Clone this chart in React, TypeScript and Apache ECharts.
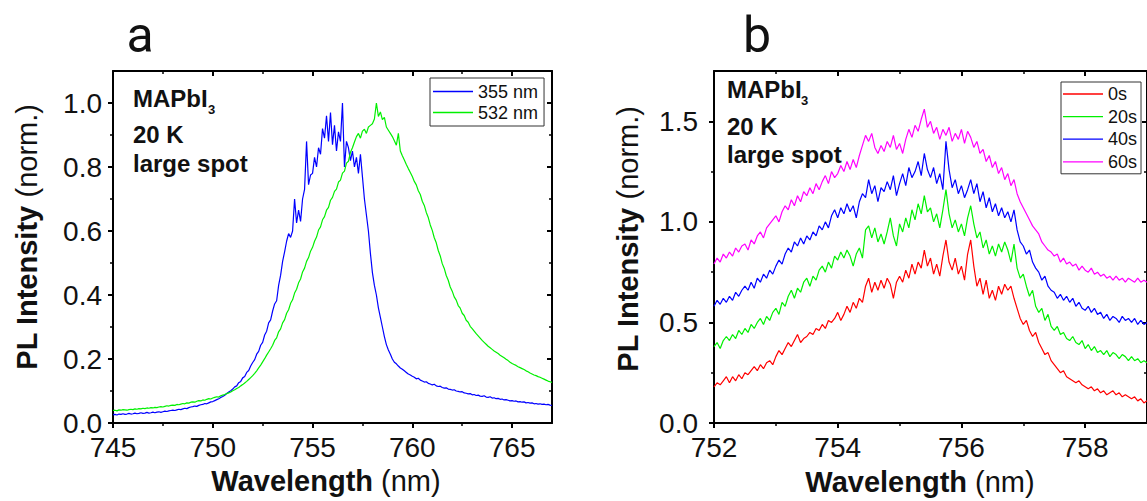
import React, { useEffect, useRef } from "react";
import * as echarts from "echarts";

// ---------- Panel a: PL spectra, 0.1 nm sampling from 745 nm ----------
const A_START = 745;
const A_STEP = 0.1;
const A_355 = [
  0.026, 0.027, 0.025, 0.028, 0.027, 0.029, 0.027, 0.028, 0.030, 0.028,
  0.029, 0.031, 0.029, 0.030, 0.032, 0.030, 0.031, 0.033, 0.031, 0.032,
  0.034, 0.032, 0.034, 0.035, 0.033, 0.035, 0.037, 0.036, 0.038, 0.039,
  0.040, 0.039, 0.041, 0.043, 0.042, 0.044, 0.046, 0.045, 0.048, 0.050,
  0.051, 0.053, 0.052, 0.055, 0.057, 0.058, 0.061, 0.060, 0.063, 0.066,
  0.067, 0.070, 0.073, 0.076, 0.080, 0.083, 0.087, 0.092, 0.097, 0.101,
  0.106, 0.113, 0.116, 0.126, 0.130, 0.141, 0.145, 0.158, 0.164, 0.178,
  0.189, 0.198, 0.215, 0.224, 0.243, 0.252, 0.275, 0.287, 0.313, 0.322,
  0.350, 0.372, 0.382, 0.430, 0.462, 0.505, 0.535, 0.568, 0.592, 0.580,
  0.600, 0.700, 0.625, 0.665, 0.630, 0.700, 0.730, 0.880, 0.745, 0.775,
  0.780, 0.830, 0.800, 0.860, 0.840, 0.920, 0.890, 0.960, 0.880, 0.970,
  0.870, 0.930, 0.850, 0.910, 0.880, 1.000, 0.800, 0.880, 0.860, 0.820,
  0.850, 0.800, 0.830, 0.780, 0.840, 0.770, 0.700, 0.650, 0.600, 0.530,
  0.470, 0.430, 0.400, 0.360, 0.330, 0.300, 0.270, 0.245, 0.228, 0.215,
  0.200, 0.190, 0.185, 0.178, 0.172, 0.168, 0.163, 0.158, 0.153, 0.150,
  0.146, 0.143, 0.138, 0.140, 0.134, 0.131, 0.128, 0.129, 0.124, 0.122,
  0.119, 0.121, 0.116, 0.114, 0.115, 0.111, 0.109, 0.110, 0.106, 0.105,
  0.103, 0.104, 0.100, 0.099, 0.097, 0.098, 0.094, 0.093, 0.091, 0.092,
  0.088, 0.089, 0.086, 0.087, 0.084, 0.083, 0.085, 0.081, 0.080, 0.082,
  0.078, 0.079, 0.076, 0.077, 0.074, 0.075, 0.072, 0.073, 0.071, 0.069,
  0.070, 0.068, 0.069, 0.066, 0.067, 0.065, 0.066, 0.063, 0.064, 0.062,
  0.063, 0.060, 0.061, 0.059, 0.060, 0.058, 0.059, 0.057, 0.058, 0.056,
  0.055,
];
const A_532 = [
  0.039, 0.040, 0.038, 0.041, 0.040, 0.042, 0.041, 0.040, 0.042, 0.043,
  0.042, 0.044, 0.043, 0.045, 0.044, 0.046, 0.045, 0.047, 0.046, 0.048,
  0.047, 0.049, 0.048, 0.050, 0.051, 0.050, 0.052, 0.054, 0.053, 0.055,
  0.056, 0.055, 0.058, 0.057, 0.059, 0.061, 0.060, 0.063, 0.062, 0.065,
  0.066, 0.065, 0.068, 0.070, 0.069, 0.072, 0.071, 0.074, 0.076, 0.075,
  0.078, 0.080, 0.082, 0.081, 0.085, 0.087, 0.089, 0.092, 0.094, 0.097,
  0.101, 0.104, 0.108, 0.111, 0.116, 0.120, 0.125, 0.130, 0.136, 0.142,
  0.148, 0.155, 0.163, 0.172, 0.181, 0.191, 0.201, 0.212, 0.222, 0.232,
  0.243, 0.258, 0.266, 0.285, 0.294, 0.313, 0.323, 0.343, 0.354, 0.374,
  0.385, 0.406, 0.418, 0.438, 0.450, 0.472, 0.484, 0.505, 0.517, 0.537,
  0.549, 0.568, 0.581, 0.603, 0.613, 0.635, 0.645, 0.665, 0.674, 0.696,
  0.705, 0.724, 0.731, 0.753, 0.759, 0.781, 0.787, 0.812, 0.818, 0.846,
  0.860, 0.878, 0.895, 0.905, 0.890, 0.912, 0.918, 0.905, 0.925, 0.930,
  0.935, 0.950, 1.000, 0.958, 0.972, 0.948, 0.955, 0.925, 0.915, 0.905,
  0.895, 0.882, 0.868, 0.905, 0.850, 0.835, 0.822, 0.808, 0.795, 0.783,
  0.770, 0.755, 0.744, 0.726, 0.714, 0.693, 0.680, 0.658, 0.642, 0.619,
  0.602, 0.579, 0.563, 0.539, 0.522, 0.498, 0.483, 0.461, 0.446, 0.425,
  0.412, 0.394, 0.384, 0.367, 0.359, 0.343, 0.336, 0.321, 0.315, 0.302,
  0.295, 0.287, 0.279, 0.272, 0.265, 0.258, 0.252, 0.246, 0.240, 0.235,
  0.230, 0.225, 0.221, 0.217, 0.212, 0.208, 0.204, 0.199, 0.195, 0.190,
  0.186, 0.183, 0.180, 0.176, 0.173, 0.170, 0.167, 0.163, 0.160, 0.156,
  0.153, 0.150, 0.148, 0.145, 0.143, 0.140, 0.137, 0.134, 0.131, 0.129,
  0.127,
];

// ---------- Panel b: PL spectra vs time, 0.05 nm sampling from 752 nm ----------
const B_START = 752;
const B_STEP = 0.05;
const B_0S = [
  0.18, 0.20, 0.19, 0.21, 0.23, 0.20, 0.23, 0.21, 0.24, 0.22,
  0.25, 0.24, 0.26, 0.28, 0.26, 0.29, 0.27, 0.30, 0.31, 0.29,
  0.33, 0.36, 0.34, 0.37, 0.40, 0.38, 0.41, 0.44, 0.40, 0.42,
  0.43, 0.45, 0.44, 0.47, 0.46, 0.49, 0.47, 0.51, 0.50, 0.52,
  0.55, 0.51, 0.54, 0.58, 0.55, 0.60, 0.57, 0.62, 0.60, 0.68,
  0.72, 0.65, 0.70, 0.66, 0.71, 0.67, 0.72, 0.69, 0.62, 0.70,
  0.73, 0.70, 0.76, 0.72, 0.79, 0.74, 0.80, 0.77, 0.86, 0.78,
  0.82, 0.74, 0.79, 0.73, 0.83, 0.91, 0.80, 0.76, 0.82, 0.74,
  0.78, 0.71, 0.84, 0.91, 0.78, 0.68, 0.72, 0.64, 0.71, 0.62,
  0.66, 0.61, 0.68, 0.64, 0.69, 0.66, 0.68, 0.62, 0.57, 0.52,
  0.49, 0.51, 0.46, 0.43, 0.45, 0.40, 0.37, 0.34, 0.35, 0.31,
  0.29, 0.27, 0.25, 0.26, 0.23, 0.22, 0.21, 0.20, 0.21, 0.19,
  0.18, 0.17, 0.18, 0.16, 0.17, 0.15, 0.16, 0.14, 0.15, 0.16,
  0.14, 0.15, 0.13, 0.14, 0.13, 0.12, 0.13, 0.11, 0.12, 0.10,
  0.11,
];
const B_20S = [
  0.38, 0.40, 0.37, 0.41, 0.43, 0.41, 0.44, 0.42, 0.46, 0.44,
  0.47, 0.45, 0.49, 0.47, 0.50, 0.52, 0.49, 0.53, 0.51, 0.55,
  0.57, 0.54, 0.60, 0.58, 0.63, 0.66, 0.62, 0.67, 0.65, 0.70,
  0.72, 0.68, 0.73, 0.71, 0.76, 0.78, 0.75, 0.80, 0.77, 0.83,
  0.81, 0.85, 0.82, 0.86, 0.83, 0.78, 0.84, 0.87, 0.82, 0.96,
  0.98, 0.92, 0.97, 0.90, 0.94, 0.89, 0.95, 1.02, 0.93, 0.88,
  0.99, 0.95, 1.02, 0.97, 1.06, 1.01, 1.09, 1.04, 1.13, 1.05,
  1.07, 1.00, 1.04, 0.97, 1.06, 1.16, 1.04, 0.97, 1.01, 0.95,
  0.99, 0.93, 1.02, 1.08, 0.99, 0.92, 0.95, 0.87, 0.91, 0.84,
  0.88, 0.83, 0.89, 0.85, 0.90, 0.86, 0.80, 0.89, 0.77, 0.72,
  0.74, 0.68, 0.63, 0.66, 0.58, 0.55, 0.57, 0.51, 0.54, 0.48,
  0.46, 0.48, 0.44, 0.45, 0.42, 0.41, 0.43, 0.40, 0.39, 0.41,
  0.37, 0.39, 0.36, 0.38, 0.35, 0.36, 0.34, 0.36, 0.33, 0.35,
  0.34, 0.32, 0.34, 0.33, 0.31, 0.33, 0.31, 0.32, 0.30, 0.31,
  0.30,
];
const B_40S = [
  0.58, 0.61, 0.59, 0.62, 0.60, 0.63, 0.61, 0.65, 0.63, 0.66,
  0.68, 0.66, 0.70, 0.67, 0.72, 0.70, 0.74, 0.72, 0.76, 0.74,
  0.78, 0.81, 0.79, 0.84, 0.87, 0.85, 0.90, 0.88, 0.92, 0.89,
  0.93, 0.91, 0.95, 0.93, 0.98, 0.96, 1.00, 0.97, 1.03, 1.06,
  1.02, 1.07, 1.04, 1.09, 1.05, 1.08, 1.02, 1.10, 1.14, 1.12,
  1.21, 1.14, 1.18, 1.10, 1.17, 1.15, 1.20, 1.16, 1.23, 1.13,
  1.19, 1.24, 1.18, 1.27, 1.22, 1.25, 1.30, 1.23, 1.34, 1.26,
  1.22, 1.27, 1.19, 1.24, 1.16, 1.40, 1.26, 1.17, 1.21, 1.14,
  1.18, 1.12, 1.16, 1.21, 1.14, 1.19, 1.10, 1.15, 1.07, 1.12,
  1.05, 1.09, 1.03, 1.07, 1.02, 1.05, 1.00, 1.06, 0.96, 0.90,
  0.88, 0.84, 0.86, 0.80, 0.77, 0.75, 0.71, 0.73, 0.68, 0.66,
  0.65, 0.62, 0.64, 0.61, 0.63, 0.60, 0.62, 0.58, 0.60, 0.57,
  0.56, 0.58, 0.55, 0.57, 0.54, 0.55, 0.52, 0.54, 0.51, 0.53,
  0.52, 0.50, 0.53, 0.51, 0.52, 0.50, 0.52, 0.49, 0.51, 0.49,
  0.50,
];
const B_60S = [
  0.79, 0.82, 0.80, 0.84, 0.82, 0.85, 0.83, 0.87, 0.85, 0.88,
  0.89, 0.86, 0.91, 0.89, 0.93, 0.95, 0.92, 0.97, 0.99, 1.01,
  1.03, 1.00, 1.05, 1.08, 1.06, 1.11, 1.08, 1.13, 1.10, 1.15,
  1.13, 1.17, 1.14, 1.19, 1.16, 1.20, 1.23, 1.19, 1.25, 1.22,
  1.24, 1.28, 1.25, 1.30, 1.26, 1.31, 1.27, 1.33, 1.38, 1.43,
  1.40, 1.44, 1.37, 1.34, 1.38, 1.35, 1.40, 1.37, 1.43, 1.36,
  1.39, 1.34, 1.41, 1.46, 1.42, 1.48, 1.45, 1.51, 1.56, 1.47,
  1.50, 1.44, 1.47, 1.41, 1.46, 1.43, 1.47, 1.40, 1.44, 1.41,
  1.46, 1.39, 1.45, 1.42, 1.37, 1.40, 1.34, 1.36, 1.30, 1.33,
  1.27, 1.30, 1.24, 1.27, 1.21, 1.24, 1.18, 1.21, 1.14, 1.10,
  1.07, 1.04, 1.01, 0.98, 0.96, 0.94, 0.90, 0.88, 0.86, 0.85,
  0.83, 0.84, 0.80, 0.82, 0.79, 0.80, 0.78, 0.79, 0.76, 0.78,
  0.76, 0.75, 0.77, 0.74, 0.75, 0.73, 0.74, 0.72, 0.73, 0.71,
  0.73, 0.71, 0.72, 0.70, 0.72, 0.71, 0.70, 0.72, 0.70, 0.71,
  0.70,
];

// ---------- Axis ticks ----------
const A_X_TICKS = [745, 750, 755, 760, 765];
const A_X_MINOR = [747.5, 752.5, 757.5, 762.5];
const A_Y_TICKS = [0, 0.2, 0.4, 0.6, 0.8, 1.0];
const A_Y_MINOR = [0.1, 0.3, 0.5, 0.7, 0.9];
const B_X_TICKS = [752, 754, 756, 758];
const B_X_MINOR = [753, 755, 757];
const B_Y_TICKS = [0, 0.5, 1.0, 1.5];
const B_Y_MINOR = [0.25, 0.75, 1.25];

const A_NAMES = ["355 nm", "532 nm"];
const B_NAMES = ["0s", "20s", "40s", "60s"];

const FONT = "'Liberation Sans', Arial, sans-serif";
const INK = "#111";

function toPairs(start: number, step: number, ys: number[]) {
  return ys.map((y, i) => [Math.round((start + i * step) * 1000) / 1000, y]);
}

function axisSet(
  gridIndex: number,
  dim: "x" | "y",
  min: number,
  max: number,
  ticks: number[],
  minor: number[],
  labelMargin: number,
  fmt: (v: number) => string
) {
  const main = dim === "x" ? "bottom" : "left";
  const opp = dim === "x" ? "top" : "right";
  const base = {
    type: "value",
    gridIndex,
    min,
    max,
    splitLine: { show: false },
    minorTick: { show: false },
    minorSplitLine: { show: false },
  };
  const line = { show: true, onZero: false, lineStyle: { color: "#000", width: 2 } };
  const noLine = { show: false, onZero: false };
  return [
    {
      ...base,
      position: main,
      axisLine: line,
      axisTick: { show: true, inside: false, length: 5, lineStyle: { color: "#000", width: 2 }, customValues: ticks },
      axisLabel: {
        show: true,
        customValues: ticks,
        margin: labelMargin,
        fontSize: 28,
        fontFamily: FONT,
        color: INK,
        formatter: fmt,
      },
    },
    {
      ...base,
      position: main,
      axisLine: noLine,
      axisTick: { show: true, inside: false, length: 3, lineStyle: { color: "#000", width: 1.5 }, customValues: minor },
      axisLabel: { show: false },
    },
    {
      ...base,
      position: opp,
      axisLine: line,
      axisTick: { show: true, inside: true, length: 5, lineStyle: { color: "#000", width: 2 }, customValues: ticks },
      axisLabel: { show: false },
    },
    {
      ...base,
      position: opp,
      axisLine: noLine,
      axisTick: { show: true, inside: true, length: 3, lineStyle: { color: "#000", width: 1.5 }, customValues: minor },
      axisLabel: { show: false },
    },
  ];
}

function lineSeries(name: string, color: string, data: number[][], axisIdx: number) {
  return {
    type: "line",
    name,
    data,
    xAxisIndex: axisIdx,
    yAxisIndex: axisIdx,
    symbol: "none",
    showSymbol: false,
    lineStyle: { color, width: 1.2 },
    itemStyle: { color },
    z: 3,
  };
}

function legendBox(names: string[], left: number, top: number, gap: number, padding: number[]) {
  return {
    data: names,
    orient: "vertical",
    left,
    top,
    icon: "rect",
    itemWidth: 40,
    itemHeight: 1.3,
    itemGap: gap,
    padding,
    borderColor: "#333",
    borderWidth: 1,
    backgroundColor: "#fff",
    selectedMode: false,
    textStyle: { fontSize: 18, fontFamily: FONT, color: INK, lineHeight: 18 },
  };
}

function annot(x: number, y1: number, y2: number, y3: number, subX: number, subY: number) {
  const bold = { fontSize: 24, fontFamily: FONT, fontWeight: "bold", fill: INK, align: "left", verticalAlign: "middle" };
  return [
    { type: "text", x, y: y1, style: { ...bold, text: "MAPbI" } },
    { type: "text", x: subX, y: subY, style: { ...bold, fontSize: 13, text: "3" } },
    { type: "text", x, y: y2, style: { ...bold, text: "20 K" } },
    { type: "text", x, y: y3, style: { ...bold, text: "large spot" } },
  ];
}

function axisTitle(x: number, y: number, bold: string, plain: string, vertical: boolean) {
  return {
    type: "text",
    x,
    y,
    rotation: vertical ? Math.PI / 2 : 0,
    style: {
      text: `{b|${bold}} {n|${plain}}`,
      fontSize: 29,
      fontFamily: FONT,
      fill: INK,
      align: "center",
      verticalAlign: "middle",
      rich: {
        b: { fontSize: 29, fontFamily: FONT, fontWeight: "bold", fill: INK },
        n: { fontSize: 29, fontFamily: FONT, fontWeight: "normal", fill: INK },
      },
    },
  };
}

function panelLetter(x: number, letter: string) {
  return {
    type: "text",
    x,
    y: 35,
    style: {
      text: letter,
      fontSize: 50,
      fontFamily: "Roboto, sans-serif",
      fill: INK,
      align: "center",
      verticalAlign: "middle",
    },
  };
}

export default function App() {
  const ref = useRef<HTMLDivElement>(null);
  useEffect(() => {
    if (!ref.current) return;
    const chart = echarts.init(ref.current, undefined, { renderer: "svg" });
    const fx0 = (v: number) => String(v);
    const fy1 = (v: number) => v.toFixed(1);
    const option = {
      animation: false,
      backgroundColor: "#fff",
      grid: [
        { left: 113, top: 71, width: 439, height: 352, containLabel: false },
        { left: 714, top: 71, width: 439, height: 352, containLabel: false },
      ],
      xAxis: [
        ...axisSet(0, "x", 745, 767, A_X_TICKS, A_X_MINOR, 10, fx0),
        ...axisSet(1, "x", 752, 759, B_X_TICKS, B_X_MINOR, 10, fx0),
      ],
      yAxis: [
        ...axisSet(0, "y", 0, 1.1, A_Y_TICKS, A_Y_MINOR, 11, fy1),
        ...axisSet(1, "y", 0, 1.75, B_Y_TICKS, B_Y_MINOR, 16, fy1),
      ],
      legend: [
        legendBox(A_NAMES, 430, 78, 3, [4.5, 6, 4.5, 3]),
        legendBox(B_NAMES, 1061, 82, 4.6, [3, 4, 3, 2]),
      ],
      series: [
        lineSeries(A_NAMES[0], "#0000ff", toPairs(A_START, A_STEP, A_355), 0),
        lineSeries(A_NAMES[1], "#00f000", toPairs(A_START, A_STEP, A_532), 0),
        lineSeries(B_NAMES[0], "#ff0000", toPairs(B_START, B_STEP, B_0S), 4),
        lineSeries(B_NAMES[1], "#00f000", toPairs(B_START, B_STEP, B_20S), 4),
        lineSeries(B_NAMES[2], "#0000ff", toPairs(B_START, B_STEP, B_40S), 4),
        lineSeries(B_NAMES[3], "#ff00ff", toPairs(B_START, B_STEP, B_60S), 4),
      ],
      graphic: [
        panelLetter(140, "a"),
        panelLetter(757, "b"),
        ...annot(133, 98.7, 134.7, 163.7, 208, 109.5),
        ...annot(727, 89, 126.7, 154.7, 801, 100.5),
        axisTitle(27, 237, "PL Intensity", "(norm.)", true),
        axisTitle(628, 239, "PL Intensity", "(norm.)", true),
        axisTitle(326, 481, "Wavelength", "(nm)", false),
        axisTitle(920, 482, "Wavelength", "(nm)", false),
      ],
    };
    chart.setOption(option as any);
    return () => chart.dispose();
  }, []);
  return (
    <div
      ref={ref}
      style={{ position: "fixed", left: 0, top: 0, width: 1147, height: 501, background: "#fff" }}
    />
  );
}
